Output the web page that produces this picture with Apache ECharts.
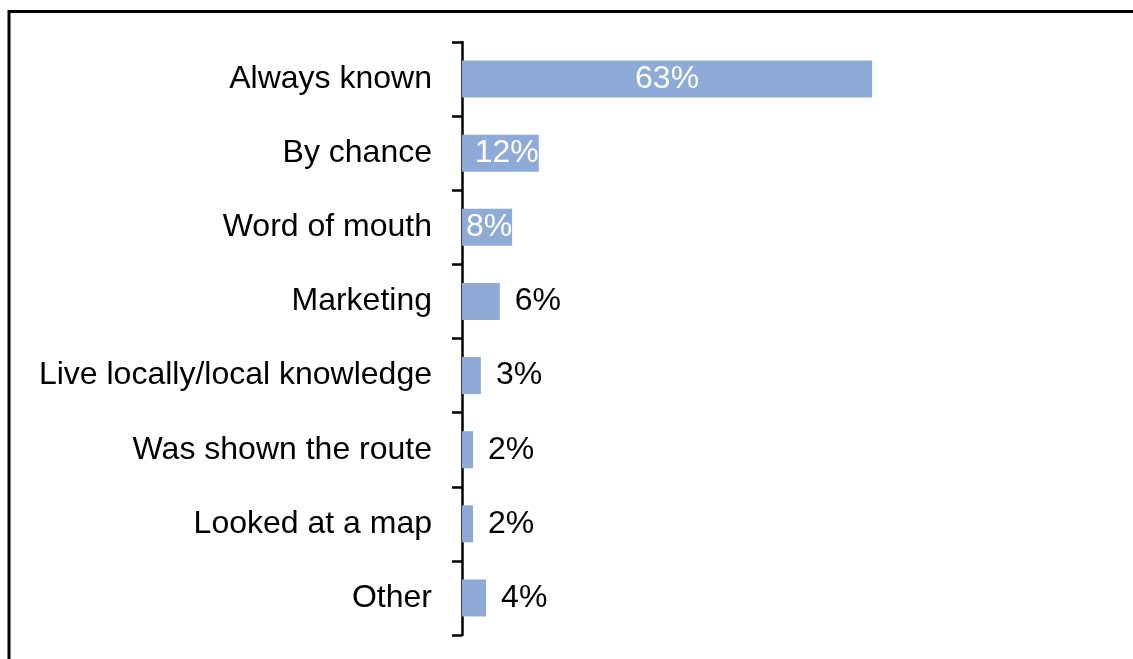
<!DOCTYPE html>
<html>
<head>
<meta charset="utf-8">
<script src="https://cdn.jsdelivr.net/npm/echarts@6/dist/echarts.min.js"></script>
<style>
html,body{margin:0;padding:0;background:#fff;}
#chart{width:1133px;height:659px;}
</style>
</head>
<body>
<div id="chart"></div>
<script>
var categories = ["Always known","By chance","Word of mouth","Marketing","Live locally/local knowledge","Was shown the route","Looked at a map","Other"];
var values = [63, 11.8, 7.7, 5.8, 2.9, 1.7, 1.7, 3.7];

var chart = echarts.init(document.getElementById('chart'));
var font = '"Liberation Sans", Arial, sans-serif';

var data = values.map(function (v) {
  var lbl;
  if (v > 30) {
    lbl = { position: 'inside', color: '#fff' };
  } else if (v >= 7) {
    lbl = { position: 'insideRight', distance: 0, color: '#fff' };
  } else {
    lbl = { position: 'right', distance: 15, color: '#000' };
  }
  return { value: v, label: lbl };
});

chart.setOption({
  animation: false,
  backgroundColor: '#fff',
  graphic: [{
    type: 'rect',
    shape: { x: 9, y: 11.5, width: 1300, height: 1000 },
    style: { fill: 'none', stroke: '#000', lineWidth: 3 },
    silent: true
  }],
  grid: { left: 462, right: 20, top: 42, bottom: 24, containLabel: false },
  xAxis: {
    type: 'value', min: 0, max: 100, show: false
  },
  yAxis: {
    type: 'category',
    data: categories,
    inverse: true,
    axisLine: { show: true, lineStyle: { color: '#000', width: 2.5 } },
    axisTick: { show: true, inside: false, length: 10, lineStyle: { color: '#000', width: 2.5 } },
    axisLabel: { fontSize: 32, color: '#000', fontFamily: font, margin: 30 },
    splitLine: { show: false }
  },
  series: [{
    type: 'bar',
    data: data,
    barWidth: '50%',
    itemStyle: { color: '#8eabd8' },
    label: {
      show: true,
      fontSize: 32,
      fontFamily: font,
      formatter: function (p) { return Math.round(p.value) + '%'; }
    }
  }]
});
</script>
</body>
</html>
